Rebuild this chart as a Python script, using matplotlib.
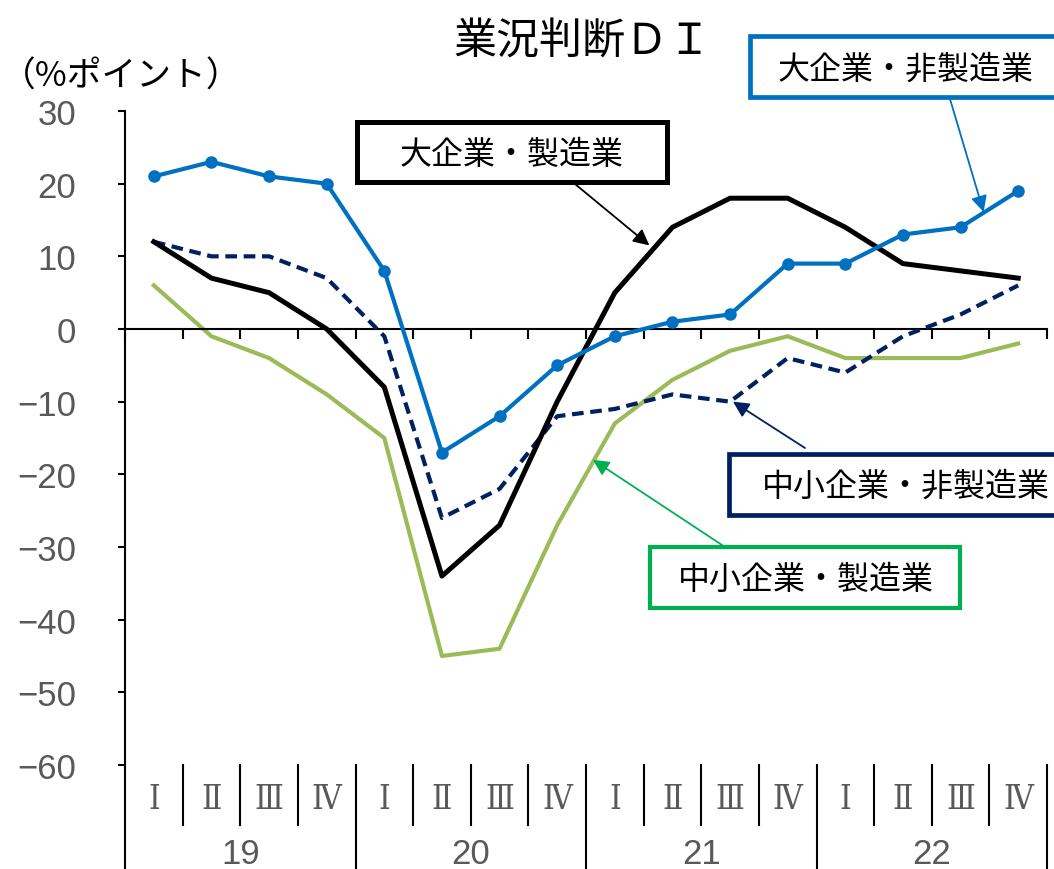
import numpy as np
import matplotlib
matplotlib.use('Agg')
import matplotlib.pyplot as plt
from matplotlib.patches import Rectangle
from matplotlib.transforms import blended_transform_factory

plt.rcParams['font.family'] = ['Noto Sans CJK JP', 'DejaVu Sans']

# データ（2019年Ⅰ期〜2022年Ⅳ期）
quarters = ['Ⅰ', 'Ⅱ', 'Ⅲ', 'Ⅳ'] * 4
years = ['19', '20', '21', '22']
large_mfg = [12, 7, 5, 0, -8, -34, -27, -10, 5, 14, 18, 18, 14, 9, 8, 7]
large_nonmfg = [21, 23, 21, 20, 8, -17, -12, -5, -1, 1, 2, 9, 9, 13, 14, 19]
small_mfg = [6, -1, -4, -9, -15, -45, -44, -27, -13, -7, -3, -1, -4, -4, -4, -2]
small_nonmfg = [12, 10, 10, 7, -1, -26, -22, -12, -11, -9, -10, -4, -6, -1, 2, 6]

W, H = 1054, 870
num_font = ['Liberation Sans Narrow', 'Liberation Sans', 'DejaVu Sans']
gray = '#595959'


def fx(px):
    return px / W


def fy(py):
    return 1 - py / H


fig = plt.figure(figsize=(W / 100, H / 100), dpi=100)
ax = fig.add_axes([fx(125), fy(766), fx(1047) - fx(125), fy(112) - fy(766)])

x = np.arange(len(quarters))
ax.plot(x, small_mfg, color='#9BBB59', lw=3.0, zorder=2)
ax.plot(x, small_nonmfg, color='#002060', lw=3.0, ls=(0, (2.8, 1.6)), zorder=3)
ax.plot(x, large_mfg, color='black', lw=3.6, zorder=4)
ax.plot(x, large_nonmfg, color='#0070C0', lw=3.0, marker='o', ms=8, zorder=5)

ax.set_xlim(-0.5, len(quarters) - 0.5)
ax.set_ylim(-60, 30)

# 軸
for s in ['top', 'right']:
    ax.spines[s].set_visible(False)
ax.spines['left'].set_linewidth(1.5)
ax.spines['bottom'].set_position(('data', 0))
ax.spines['bottom'].set_linewidth(1.5)
ax.set_xticks(np.arange(-0.5, len(quarters), 1))
ax.set_xticklabels([])
ax.tick_params(axis='x', direction='out', length=7, width=1.5)
ax.set_yticks(range(-60, 31, 10))
ax.tick_params(axis='y', direction='out', length=5, width=1.5, pad=30,
               labelsize=25, labelcolor=gray)
for lab in ax.get_yticklabels():
    lab.set_family(num_font)
    lab.set_stretch('condensed')

# 横軸のカテゴリ（期・年）
tr = blended_transform_factory(ax.transData, ax.transAxes)
for i in range(1, len(quarters)):
    if i % 4:
        ax.plot([i - 0.5, i - 0.5], [0, -0.092], color='black', lw=1.5,
                transform=tr, clip_on=False)
for i in range(0, len(quarters) + 1, 4):
    ax.plot([i - 0.5, i - 0.5], [0, -0.2], color='black', lw=1.5,
            transform=tr, clip_on=False)
for i, q in enumerate(quarters):
    ax.text(i, -0.052, q, transform=tr, ha='center', va='center',
            fontsize=24, color=gray, family=['DejaVu Serif', 'Noto Sans CJK JP'],
            stretch='condensed')
for j, yr in enumerate(years):
    ax.text(j * 4 + 1.5, -0.136, yr, transform=tr, ha='center', va='center',
            fontsize=25, color=gray, family=num_font, stretch='condensed')

# タイトル・単位
fig.text(fx(582), fy(42), '業況判断ＤＩ', ha='center', va='center', fontsize=31)
fig.text(fx(1), fy(77), '（%ポイント）', ha='left', va='center', fontsize=25)

# 凡例ボックスと矢印
labels = [
    ('大企業・製造業', 'black', (357, 123, 667, 183), (575, 185), (8.6, 11.5), 3.6),
    ('大企業・非製造業', '#0070C0', (750, 37, 1080, 98), (950, 100), (14.4, 16.1), 3.4),
    ('中小企業・非製造業', '#002060', (729, 455, 1080, 516), (805, 449), (10.05, -10.0), 3.4),
    ('中小企業・製造業', '#00B050', (650, 548, 960, 609), (722, 546), (7.62, -18.0), 3.0),
]
text_centers = [(512, 155), (906, 70), (906, 487), (806, 580)]
for (txt, col, box, start, tip, blw), (tx, ty) in zip(labels, text_centers):
    x0, y0, x1, y1 = box
    fig.patches.append(Rectangle((fx(x0), fy(y1)), fx(x1) - fx(x0), fy(y0) - fy(y1),
                                 transform=fig.transFigure, fill=True, facecolor='white',
                                 edgecolor=col, lw=blw, zorder=10))
    fig.text(fx(tx), fy(ty), txt, ha='center', va='center', fontsize=23, zorder=11)
    ax.annotate('', xy=tip, xycoords='data', xytext=(fx(start[0]), fy(start[1])),
                textcoords='figure fraction',
                arrowprops=dict(arrowstyle='-|>', color=col, lw=1.3,
                                mutation_scale=24, shrinkA=0, shrinkB=0),
                zorder=9, annotation_clip=False)

fig.savefig('out.png', dpi=100)
